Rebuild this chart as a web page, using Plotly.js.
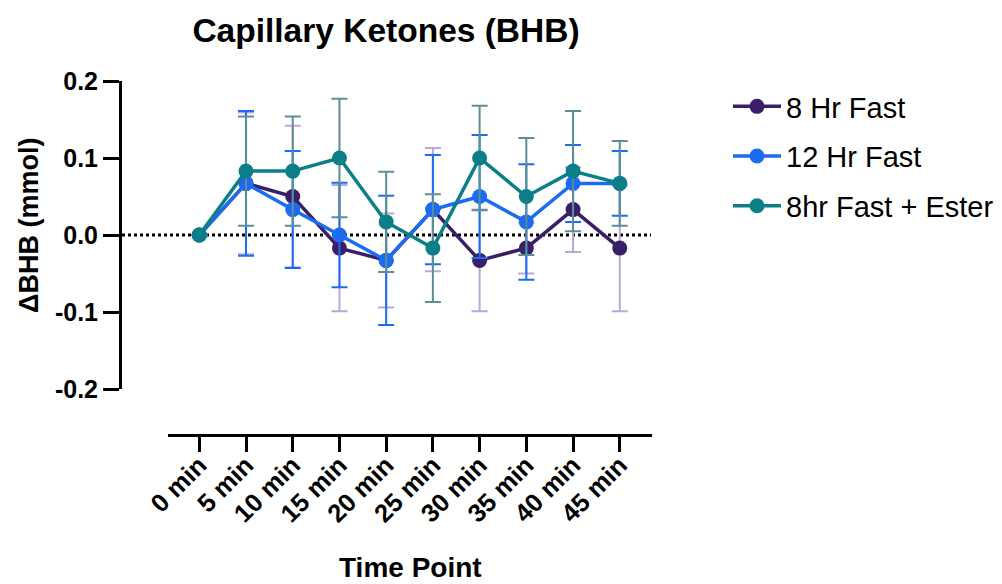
<!DOCTYPE html>
<html>
<head>
<meta charset="utf-8">
<script src="https://cdn.plot.ly/plotly-3.0.1.min.js"></script>
<style>html,body{margin:0;padding:0;background:#fff;}#chart{width:1002px;height:584px;}</style>
</head>
<body>
<div id="chart"></div>
<script>
// Data
const timePoints = ["0 min","5 min","10 min","15 min","20 min","25 min","30 min","35 min","40 min","45 min"];
const fast8Mean  = [0, 0.067, 0.050, -0.017, -0.033, 0.033, -0.033, -0.017, 0.033, -0.017];
const fast8Err   = [0, 0.092, 0.092, 0.082, 0.061, 0.080, 0.066, 0.033, 0.055, 0.082];
const fast12Mean = [0, 0.067, 0.033, 0.000, -0.033, 0.033, 0.050, 0.017, 0.067, 0.067];
const fast12Err  = [0, 0.094, 0.076, 0.068, 0.084, 0.071, 0.080, 0.075, 0.050, 0.042];
const esterMean  = [0, 0.083, 0.083, 0.100, 0.017, -0.017, 0.100, 0.050, 0.083, 0.067];
const esterErr   = [0, 0.071, 0.071, 0.077, 0.065, 0.070, 0.068, 0.076, 0.078, 0.055];
const seriesNames = ["8 Hr Fast", "12 Hr Fast", "8hr Fast + Ester"];
const yTicks = [-0.2, -0.1, 0.0, 0.1, 0.2];
const yTickText = ["-0.2", "-0.1", "0.0", "0.1", "0.2"];

const W = 1002, H = 584;
const px = v => v / W;
const py = v => 1 - v / H;
const FONT = "Liberation Sans, Arial, Helvetica, sans-serif";

function mk(name, y, err, color, errColor, group) {
  return {
    type: "scatter", mode: "lines+markers", name: name,
    x: timePoints, y: y, legendgroup: group,
    line: {color: color, width: 3.5},
    marker: {color: color, size: 15},
    error_y: {type: "data", array: err, visible: true, color: errColor, thickness: 2, width: 8},
    cliponaxis: false
  };
}

const traces = [
  mk(seriesNames[0], fast8Mean, fast8Err, "#3a1f68", "#b9a7de", "g1"),
  mk(seriesNames[1], fast12Mean, fast12Err, "#1b6cf0", "#1b6cf0", "g2"),
  mk(seriesNames[2], esterMean, esterErr, "#0b7e87", "#5b8e95", "g3")
];

const layout = {
  width: W, height: H,
  margin: {l: 0, r: 0, t: 0, b: 0},
  paper_bgcolor: "#fff", plot_bgcolor: "rgba(0,0,0,0)",
  font: {family: FONT, color: "#000"},
  showlegend: true,
  title: {text: "Capillary Ketones (BHB)", x: px(386), xanchor: "center", y: py(30), yanchor: "middle",
          xref: "paper", yref: "paper", font: {size: 33.5, weight: "bold", family: FONT, color: "#000"}},
  xaxis: {
    type: "category", domain: [px(168), px(652)], anchor: "free", position: py(435),
    range: [-0.67, 9.69], showgrid: false, zeroline: false,
    showline: true, linecolor: "#000", linewidth: 3,
    ticks: "outside", ticklen: 15, tickwidth: 3, tickcolor: "#000",
    ticklabelstandoff: -12,
    tickangle: -45, tickfont: {size: 25.5, weight: "bold", family: FONT, color: "#000"}
  },
  yaxis: {
    domain: [py(389), py(81)], anchor: "free", position: px(120),
    range: [-0.2, 0.2], tickvals: yTicks, ticktext: yTickText,
    showgrid: false, zeroline: false,
    showline: true, linecolor: "#000", linewidth: 3,
    ticks: "outside", ticklen: 16, tickwidth: 3, tickcolor: "#000",
    tickfont: {size: 25, weight: "bold", family: FONT, color: "#000"}
  },
  shapes: [{type: "line", xref: "paper", yref: "y", x0: px(122), x1: px(651), y0: 0, y1: 0,
            line: {color: "#000", width: 3, dash: "dot"}, layer: "below"}],
  annotations: [
    {text: "ΔBHB (mmol)", xref: "paper", yref: "paper", x: px(29), y: py(226), textangle: -90,
     showarrow: false, xanchor: "center", yanchor: "middle", font: {size: 27, weight: "bold", family: FONT, color: "#000"}},
    {text: "Time Point", xref: "paper", yref: "paper", x: px(410), y: py(567),
     showarrow: false, xanchor: "center", yanchor: "middle", font: {size: 28, weight: "bold", family: FONT, color: "#000"}}
  ],
  legend: {x: px(728), y: py(81), xanchor: "left", yanchor: "top", traceorder: "grouped",
           tracegroupgap: 9, itemwidth: 48, bgcolor: "rgba(0,0,0,0)",
           font: {size: 29, family: FONT, color: "#000"}}
};

Plotly.newPlot("chart", traces, layout, {displayModeBar: false, staticPlot: true});
</script>
</body>
</html>
